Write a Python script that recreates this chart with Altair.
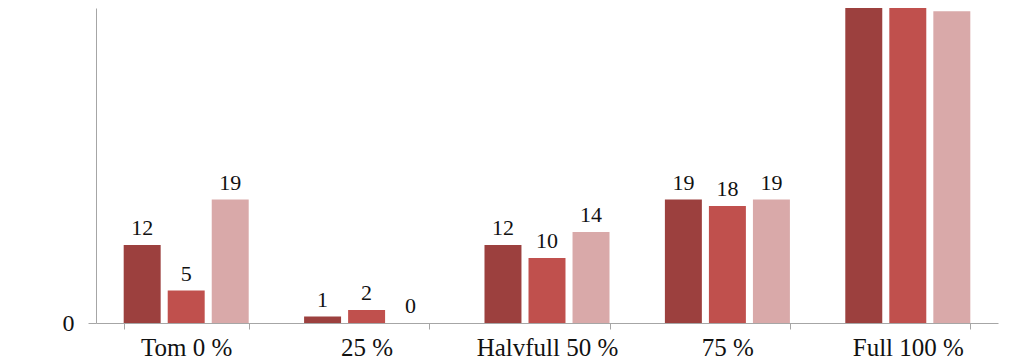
import altair as alt
import pandas as pd

categories = ["Tom 0 %", "25 %", "Halvfull 50 %", "75 %", "Full 100 %"]
series = ["Serie 1", "Serie 2", "Serie 3"]
values_1 = [12, 1, 12, 19, 56]
values_2 = [5, 2, 10, 18, 65]
values_3 = [19, 0, 14, 19, 48]
colors = ["#9C403E", "#C0504D", "#D9A9A9"]

rows = []
for s, vals in zip(series, [values_1, values_2, values_3]):
    for c, v in zip(categories, vals):
        rows.append({"cat": c, "series": s, "val": v})
df = pd.DataFrame(rows)

FONT = "Liberation Serif"
GRAY = "#A6A6A6"

base = alt.Chart(df).encode(
    x=alt.X(
        "cat:N",
        sort=categories,
        scale=alt.Scale(paddingInner=0.307, paddingOuter=0.1535),
        axis=alt.Axis(
            title=None,
            labelAngle=0,
            tickBand="extent",
            domainColor=GRAY,
            tickColor=GRAY,
            tickSize=6,
            labelFont=FONT,
            labelFontSize=25,
            labelColor="#111111",
            labelPadding=6,
        ),
    ),
    xOffset=alt.XOffset(
        "series:N", sort=series, scale=alt.Scale(paddingInner=0.16, paddingOuter=0)
    ),
    y=alt.Y(
        "val:Q",
        scale=alt.Scale(domain=[0, 48.5], nice=False, zero=True),
        axis=alt.Axis(
            title=None,
            values=[0],
            grid=False,
            domainColor=GRAY,
            tickColor=GRAY,
            tickSize=8,
            labelFont=FONT,
            labelFontSize=24,
            labelColor="#111111",
            labelPadding=14,
        ),
    ),
)

bars = base.mark_bar(clip=True).encode(
    color=alt.Color(
        "series:N", scale=alt.Scale(domain=series, range=colors), legend=None
    )
)

# labels of the last group lie above the visible plot area in the reference
labels = (
    base.mark_text(
        dy=-10, baseline="alphabetic", fontSize=22, font=FONT, color="#111111"
    )
    .encode(text="val:Q")
    .transform_filter(alt.datum.cat != "Full 100 %")
)

chart = (
    alt.layer(bars, labels)
    .properties(
        width=902,
        height=315,
        autosize=alt.AutoSizeParams(type="none"),
        padding={"left": 88, "top": 0, "right": 15, "bottom": 40},
    )
    .configure_view(stroke=None)
)

chart.save("out.html", embed_options={"renderer": "svg", "actions": False})
